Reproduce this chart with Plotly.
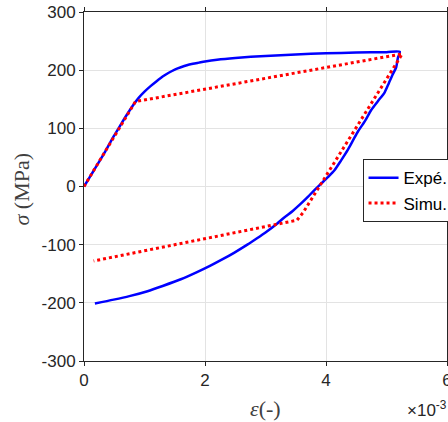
import plotly.graph_objects as go

# Experimental loop (strain in units of 1e-3, stress in MPa)
exp_strain = [0, 0.1, 0.2, 0.35, 0.49, 0.6, 0.7, 0.8, 0.9, 1.0, 1.1, 1.2, 1.3, 1.4, 1.5, 1.6,
              1.7, 1.8, 1.9, 2.0, 2.2, 2.5, 3.0, 3.5, 4.0, 4.5, 5.0, 5.22,
              5.19, 5.16, 5.10, 5.04, 4.97, 4.86, 4.75, 4.64, 4.53, 4.45, 4.36, 4.25, 4.14, 4.03,
              3.92, 3.80, 3.70, 3.58, 3.45, 3.30, 3.19, 3.0, 2.86, 2.7, 2.48, 2.3, 2.09, 1.85,
              1.6, 1.3, 1.05, 0.75, 0.49, 0.18]
exp_stress = [0, 17, 34, 60, 86, 105, 122, 138, 152, 163, 172.5, 181, 189, 195.5, 201, 205,
              208.5, 211, 213, 215, 218, 221, 224.5, 227, 229, 230.3, 231, 231.5,
              222, 205, 192, 178, 162, 147, 132, 112, 95, 80, 63, 45, 28, 16,
              5, -7, -18, -30, -42, -54, -64, -79, -89, -100, -114, -124.5, -136, -148,
              -159.5, -171, -180, -188.5, -194.5, -201]

# Simulation
sim_strain = [0, 0.85, 5.26, 3.62, 3.52, 0.16]
sim_stress = [0, 146, 228, -45, -58, -128]

x_tickvals = [0, 2, 4, 6]
x_ticktext = ["0", "2", "4", "6"]
y_tickvals = [-300, -200, -100, 0, 100, 200, 300]
y_ticktext = ["-300", "-200", "-100", "0", "100", "200", "300"]

AX = "#262626"
GRID = "#e3e3e3"
SANS = "Liberation Sans, Arial, sans-serif"
SERIF = "Liberation Serif, Times New Roman, serif"

fig = go.Figure()
fig.add_trace(go.Scatter(x=exp_strain, y=exp_stress, mode="lines", name="Expé.",
                         line=dict(color="#0000ff", width=2.5, shape="spline", smoothing=0.7)))
fig.add_trace(go.Scatter(x=sim_strain, y=sim_stress, mode="lines", name="Simu.",
                         line=dict(color="#ff0000", width=3, dash="3px,3px")))

fig.update_layout(
    width=448, height=422,
    margin=dict(l=84, r=1, t=12, b=61, autoexpand=False),
    paper_bgcolor="white", plot_bgcolor="white",
    font=dict(family=SANS, size=17, color=AX),
    showlegend=True,
    legend=dict(x=1.018, xanchor="right", y=0.578, yanchor="top",
                bgcolor="white", bordercolor=AX, borderwidth=1,
                font=dict(family=SANS, size=17, color="black"),
                tracegroupgap=0, itemwidth=30),
)
common = dict(showline=True, linecolor=AX, linewidth=1, mirror="ticks",
              ticks="outside", ticklen=4, tickcolor=AX,
              showgrid=True, gridcolor=GRID, gridwidth=1, zeroline=False,
              tickfont=dict(family=SANS, size=17, color=AX), automargin=False,
              ticklabeloverflow="allow")
fig.update_xaxes(range=[0, 6], tickvals=x_tickvals, ticktext=x_ticktext, **common)
fig.update_yaxes(range=[-300, 300], tickvals=y_tickvals, ticktext=y_ticktext, **common)

# Axis titles
fig.add_annotation(xref="paper", yref="paper", x=0.5, y=0, xanchor="center", yanchor="middle",
                   yshift=-47, showarrow=False, text="<i>ε</i>(-)",
                   font=dict(family=SERIF, size=22, color="#404040"))
fig.add_annotation(xref="paper", yref="paper", x=0, y=0.5, xanchor="center", yanchor="middle",
                   xshift=-63, yshift=-3, showarrow=False, text="<i>σ</i> (MPa)", textangle=-90,
                   font=dict(family=SERIF, size=22, color="#404040"))
fig.add_annotation(xref="paper", yref="paper", x=1, y=0, xanchor="right", yanchor="top",
                   xshift=2, yshift=-35, showarrow=False,
                   text="×10<sup>-3</sup>", font=dict(family=SANS, size=17, color=AX))

fig.write_html("out.html", config={"displayModeBar": False})
with open("out.html", encoding="utf-8") as f:
    html = f.read()
html = html.replace("<head>", "<head><style>html,body{margin:0;padding:0;overflow:hidden;}</style>", 1)
with open("out.html", "w", encoding="utf-8") as f:
    f.write(html)
